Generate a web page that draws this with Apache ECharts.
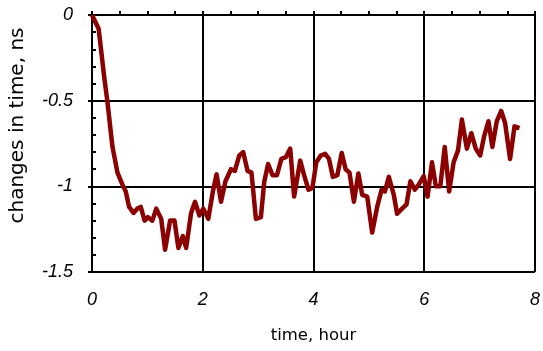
<!DOCTYPE html>
<html>
<head>
<meta charset="utf-8">
<script src="https://cdn.jsdelivr.net/npm/echarts@6/dist/echarts.min.js"></script>
<style>
  html, body { margin: 0; padding: 0; background: #fff; }
  #chart { width: 543px; height: 351px; }
</style>
</head>
<body>
<div id="chart"></div>
<script>
// time in hours
var hours = [0, 0.12, 0.22, 0.28, 0.37, 0.46, 0.55, 0.61, 0.67, 0.75,
    0.82, 0.88, 0.95, 1.01, 1.09, 1.16, 1.25, 1.32, 1.41, 1.49,
    1.56, 1.64, 1.70, 1.79, 1.86, 1.94, 2.01, 2.10, 2.18, 2.25,
    2.33, 2.41, 2.51, 2.58, 2.66, 2.73, 2.81, 2.88, 2.96, 3.05,
    3.11, 3.18, 3.26, 3.34, 3.42, 3.50, 3.58, 3.65, 3.76, 3.83,
    3.91, 3.98, 4.05, 4.13, 4.21, 4.28, 4.35, 4.43, 4.51, 4.58,
    4.65, 4.73, 4.81, 4.88, 4.97, 5.06, 5.15, 5.23, 5.29, 5.36,
    5.45, 5.51, 5.60, 5.68, 5.75, 5.83, 5.90, 5.99, 6.06, 6.14,
    6.21, 6.29, 6.37, 6.45, 6.53, 6.61, 6.68, 6.77, 6.85, 6.93,
    7.01, 7.08, 7.16, 7.23, 7.31, 7.39, 7.46, 7.55, 7.63, 7.72];
// change in time, ns
var changes = [0, -0.08, -0.36, -0.51, -0.77, -0.92, -0.99, -1.03, -1.12, -1.155,
    -1.13, -1.12, -1.20, -1.18, -1.20, -1.13, -1.19, -1.37, -1.20, -1.20,
    -1.36, -1.29, -1.36, -1.155, -1.09, -1.17, -1.13, -1.19, -1.035, -0.93,
    -1.09, -0.97, -0.90, -0.91, -0.82, -0.80, -0.91, -0.92, -1.19, -1.18,
    -0.975, -0.87, -0.935, -0.935, -0.84, -0.83, -0.78, -1.06, -0.85, -0.935,
    -1.02, -1.01, -0.86, -0.82, -0.81, -0.84, -0.945, -0.935, -0.805, -0.90,
    -0.92, -1.09, -0.925, -1.05, -1.06, -1.27, -1.12, -1.02, -1.03, -0.945,
    -1.05, -1.16, -1.13, -1.105, -0.97, -1.02, -0.99, -0.94, -1.06, -0.86,
    -1.00, -1.00, -0.77, -1.03, -0.86, -0.79, -0.61, -0.78, -0.69, -0.78,
    -0.82, -0.71, -0.62, -0.77, -0.62, -0.56, -0.63, -0.84, -0.65, -0.66];

var xTicks = [0, 8, 2];      // min, max, interval
var yTicks = [-1.5, 0, 0.5];

var points = hours.map(function(h, i){ return [h, changes[i]]; });

var labelFont = { color: '#000', fontFamily: 'Liberation Sans', fontStyle: 'italic', fontSize: 18 };
var blackLine = { color: '#000', width: 2 };

var myChart = echarts.init(document.getElementById('chart'));
var option = {
    animation: false,
    grid: { left: 92, right: 6, top: 15, bottom: 79 },
    xAxis: [
        {
            type: 'value', min: xTicks[0], max: xTicks[1], interval: xTicks[2],
            position: 'bottom',
            name: 'time, hour', nameLocation: 'middle', nameGap: 55,
            nameTextStyle: { color: '#000', fontFamily: 'DejaVu Sans', fontSize: 16.5 },
            axisLine: { lineStyle: blackLine },
            axisTick: { show: true, inside: false, length: 4, lineStyle: blackLine },
            axisLabel: Object.assign({ margin: 19 }, labelFont),
            splitLine: { show: true, lineStyle: blackLine }
        },
        {
            type: 'value', min: xTicks[0], max: xTicks[1], interval: 0.5,
            position: 'bottom', offset: 0,
            axisLine: { show: false },
            axisTick: { show: true, inside: true, length: 4, lineStyle: blackLine },
            axisLabel: { show: false },
            splitLine: { show: false }
        }
    ],
    yAxis: [
        {
            type: 'value', min: yTicks[0], max: yTicks[1], interval: yTicks[2],
            position: 'left',
            name: 'changes in time, ns', nameLocation: 'middle', nameGap: 64,
            nameTextStyle: { color: '#000', fontFamily: 'DejaVu Sans', fontSize: 20, padding: [0, 0, 0, 36] },
            axisLine: { lineStyle: blackLine },
            axisTick: { show: true, inside: false, length: 4, lineStyle: blackLine },
            axisLabel: Object.assign({ margin: 19 }, labelFont),
            splitLine: { show: true, lineStyle: blackLine }
        },
        {
            type: 'value', min: yTicks[0], max: yTicks[1], interval: 0.1,
            position: 'left', offset: 0,
            axisLine: { show: false },
            axisTick: { show: true, inside: true, length: 4, lineStyle: blackLine },
            axisLabel: { show: false },
            splitLine: { show: false }
        }
    ],
    series: [
        {
            type: 'line',
            xAxisIndex: 0,
            yAxisIndex: 0,
            data: points,
            showSymbol: false,
            lineStyle: { color: '#8b0000', width: 4.5, join: 'round' },
            z: 5
        }
    ]
};
myChart.setOption(option);
</script>
</body>
</html>
